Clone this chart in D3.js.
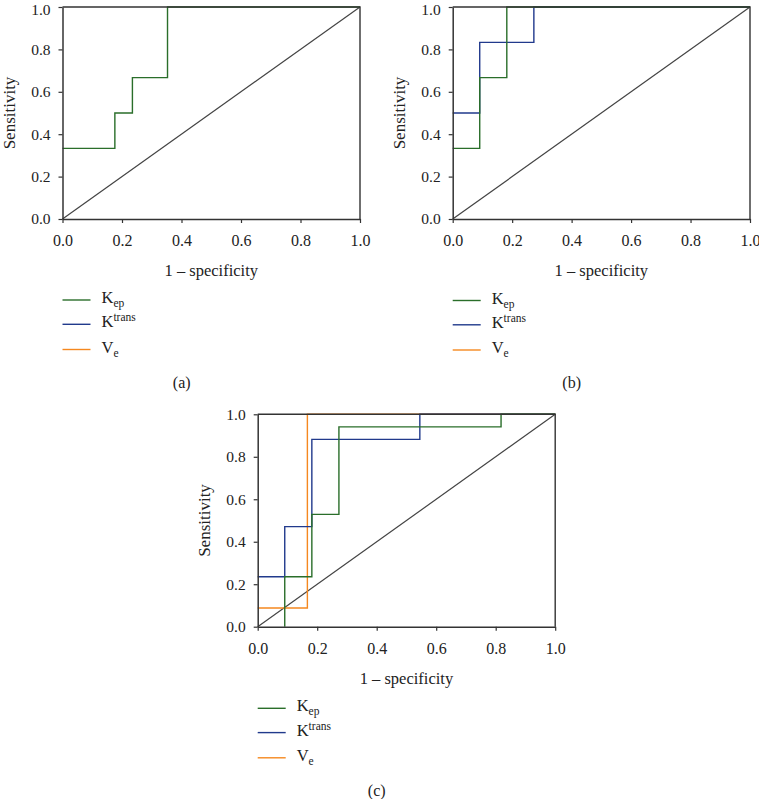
<!DOCTYPE html>
<html>
<head>
<meta charset="utf-8">
<script src="https://cdn.jsdelivr.net/npm/d3@7"></script>
<style>
  html, body { margin: 0; padding: 0; background: #fff; }
  svg { display: block; }
  text { font-family: "Liberation Serif", "Times New Roman", serif; fill: #222; }
</style>
</head>
<body>
<svg id="chart" width="759" height="799"></svg>
<script>
// ---------------- DATA ----------------
const axisTicks = [0, 0.2, 0.4, 0.6, 0.8, 1.0];
const seriesNames = ["Kep", "Ktrans", "Ve"];

// Panel (a)
const aKepX = [0, 0.176, 0.176, 0.235, 0.235, 0.353, 0.353, 1];
const aKepY = [0.333, 0.333, 0.5, 0.5, 0.667, 0.667, 1, 1];

// Panel (b)
const bKepX = [0, 0.0909, 0.0909, 0.182, 0.182, 1];
const bKepY = [0.333, 0.333, 0.667, 0.667, 1, 1];
const bKtransX = [0, 0.0909, 0.0909, 0.273, 0.273, 1];
const bKtransY = [0.5, 0.5, 0.833, 0.833, 1, 1];

// Panel (c)
const cKepX = [0.0909, 0.0909, 0.182, 0.182, 0.273, 0.273, 0.818, 0.818, 1];
const cKepY = [0, 0.235, 0.235, 0.529, 0.529, 0.941, 0.941, 1, 1];
const cKtransX = [0, 0.0909, 0.0909, 0.182, 0.182, 0.545, 0.545, 1];
const cKtransY = [0.235, 0.235, 0.471, 0.471, 0.882, 0.882, 1, 1];
const cVeX = [0, 0.167, 0.167, 1];
const cVeY = [0.088, 0.088, 1, 1];

// ---------------- STYLE / LAYOUT ----------------
const colors = { Kep: "#2a6e2a", Ktrans: "#213a8c", Ve: "#f5881f" };
const FONT = "Liberation Serif, Times New Roman, serif";

const panels = [
  { label: "(a)", x0: 62.5, x1: 360, y0: 219, y1: 7,
    series: [{ name: "Kep", xs: aKepX, ys: aKepY }],
    legendX: 62.5, legendY: 300, capX: 181.7, capY: 383 },
  { label: "(b)", x0: 452.7, x1: 750, y0: 219, y1: 7,
    series: [{ name: "Ktrans", xs: bKtransX, ys: bKtransY },
             { name: "Kep", xs: bKepX, ys: bKepY }],
    legendX: 452.7, legendY: 300.5, capX: 571.7, capY: 383 },
  { label: "(c)", x0: 257.7, x1: 555.2, y0: 626.7, y1: 414.3,
    series: [{ name: "Ve", xs: cVeX, ys: cVeY },
             { name: "Ktrans", xs: cKtransX, ys: cKtransY },
             { name: "Kep", xs: cKepX, ys: cKepY }],
    legendX: 257.7, legendY: 708.3, capX: 376.7, capY: 790.5 }
];

const svg = d3.select("#chart");
const fmt = d3.format(".1f");

panels.forEach(p => {
  const x = d3.scaleLinear().domain([0, 1]).range([p.x0, p.x1]);
  const y = d3.scaleLinear().domain([0, 1]).range([p.y0, p.y1]);
  const g = svg.append("g");

  // diagonal reference
  g.append("line")
    .attr("x1", x(0)).attr("y1", y(0)).attr("x2", x(1)).attr("y2", y(1))
    .attr("stroke", "#444").attr("stroke-width", 1.2);

  // ROC curves
  const line = d3.line().x(d => x(d[0])).y(d => y(d[1]));
  p.series.forEach(s => {
    const pts = s.xs.map((v, i) => [v, s.ys[i]]);
    g.append("path").datum(pts)
      .attr("d", line)
      .attr("fill", "none")
      .attr("stroke", colors[s.name])
      .attr("stroke-width", 1.4);
  });

  // frame (top + right)
  g.append("path")
    .attr("d", `M${x(0)},${y(1)}H${x(1)}V${y(0)}`)
    .attr("fill", "none").attr("stroke", "#333").attr("stroke-width", 1.4);

  // axes
  const xAxis = d3.axisBottom(x).tickValues(axisTicks).tickFormat(fmt)
    .tickSize(4).tickPadding(12).tickSizeOuter(0);
  const yAxis = d3.axisLeft(y).tickValues(axisTicks).tickFormat(fmt)
    .tickSize(4).tickPadding(8).tickSizeOuter(0);

  const gx = g.append("g").attr("transform", `translate(0,${p.y0})`).call(xAxis);
  const gy = g.append("g").attr("transform", `translate(${p.x0},0)`).call(yAxis);
  gx.attr("font-family", FONT).attr("font-size", 16);
  gy.attr("font-family", FONT).attr("font-size", 15.5);
  // keep the top label inside the page when the plot touches the top edge
  if (p.y1 < 12) {
    gy.selectAll(".tick text").filter(d => d === 1).attr("dy", "0.5em");
  }
  [gx, gy].forEach(a => {
    a.select(".domain").attr("stroke", "#333").attr("stroke-width", 1.5);
    a.selectAll(".tick line").attr("stroke", "#333").attr("stroke-width", 1.2);
    a.selectAll(".tick text").attr("fill", "#222");
  });

  // axis titles
  g.append("text")
    .attr("x", (p.x0 + p.x1) / 2).attr("y", p.y0 + 57)
    .attr("text-anchor", "middle").attr("font-size", 16.5)
    .text("1 \u2013 specificity");
  g.append("text")
    .attr("transform", `translate(${p.x0 - 47.5},${(p.y0 + p.y1) / 2}) rotate(-90)`)
    .attr("text-anchor", "middle").attr("font-size", 17)
    .text("Sensitivity");

  // legend
  const legendRows = [
    { name: "Kep", main: "K", small: "ep", pos: "sub", dy: 0 },
    { name: "Ktrans", main: "K", small: "trans", pos: "sup", dy: 24.3 },
    { name: "Ve", main: "V", small: "e", pos: "sub", dy: 49.5 }
  ];
  legendRows.forEach(r => {
    const ly = p.legendY + r.dy;
    g.append("line")
      .attr("x1", p.legendX).attr("x2", p.legendX + 28)
      .attr("y1", ly).attr("y2", ly)
      .attr("stroke", colors[r.name]).attr("stroke-width", 1.4);
    const t = g.append("text")
      .attr("x", p.legendX + 39).attr("y", ly + 3)
      .attr("font-size", 16.5);
    t.append("tspan").text(r.main);
    t.append("tspan")
      .attr("font-size", 11.5)
      .attr("dy", r.pos === "sub" ? 4 : -6)
      .text(r.small);
  });

  // panel caption
  g.append("text")
    .attr("x", p.capX).attr("y", p.capY + 5)
    .attr("text-anchor", "middle").attr("font-size", 16)
    .text(p.label);
});
</script>
</body>
</html>
